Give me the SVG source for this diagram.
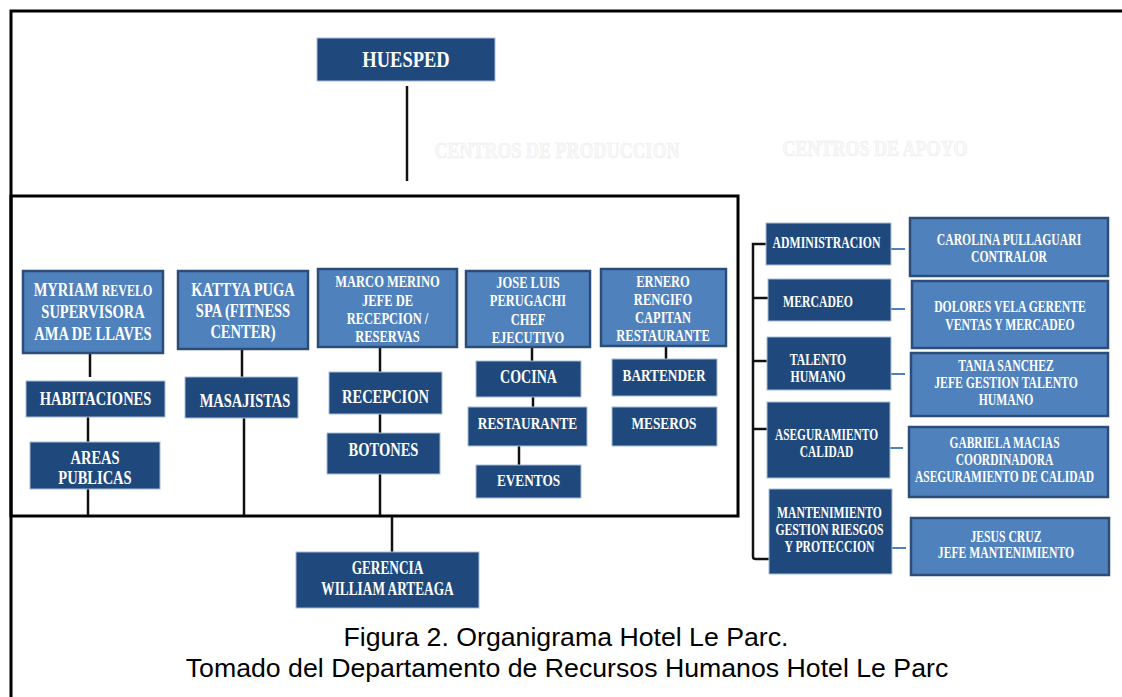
<svg xmlns="http://www.w3.org/2000/svg" width="1122" height="697" viewBox="0 0 1122 697">
<style>
.dk{fill:#1f497d;stroke:#a9bcd6;stroke-width:1}
.lt{fill:#4f81bd;stroke:#2c4d78;stroke-width:2.5}
.t{font-family:"Liberation Serif","Times New Roman",serif;font-weight:bold;fill:#ffffff;text-anchor:middle}
.c{stroke:#111;stroke-width:2.5;fill:none}
.b{stroke:#4f81bd;stroke-width:2;fill:none}
.faint{font-family:"Liberation Serif","Times New Roman",serif;font-weight:bold;font-size:24px;fill:#f8f8f8;stroke:#ededed;stroke-width:0.6;text-anchor:middle}
.cap{font-family:"Liberation Sans",Arial,sans-serif;font-size:26.7px;fill:#000;text-anchor:middle}
</style>
<rect width="1122" height="697" fill="#ffffff"/>
<path d="M11,697 V11 H1122" stroke="#000" stroke-width="3" fill="none"/>
<rect x="11" y="196" width="727" height="320" fill="none" stroke="#000" stroke-width="3"/>
<text class="faint" transform="matrix(0.75 0 0 1 557 0)" x="0" y="158">CENTROS DE PRODUCCION</text>
<text class="faint" transform="matrix(0.75 0 0 1 875 0)" x="0" y="156">CENTROS DE APOYO</text>

<g id="connectors">
<path class="c" d="M407,86 V181"/>
<path class="c" d="M90,353 V377"/>
<path class="c" d="M88,417 V442"/>
<path class="c" d="M88,489 V515"/>
<path class="c" d="M242,349 V381"/>
<path class="c" d="M244,418 V515" stroke="#444"/>
<path class="c" d="M380,347 V372"/>
<path class="c" d="M380,414 V433"/>
<path class="c" d="M380,474 V515"/>
<path class="c" d="M392,516 V552"/>
<path class="c" d="M532,347 V361"/>
<path class="c" d="M533,397 V407"/>
<path class="c" d="M519,446 V465"/>
<path class="c" d="M666,346 V359"/>
<path class="c" stroke-width="3" d="M767,244 H753 V557 Q753,559 756,559 H771"/>
<path class="c" stroke-width="3" d="M753,298 H768"/>
<path class="c" stroke-width="3" d="M753,361 H767"/>
<path class="c" stroke-width="3" d="M753,429 H770"/>
<path class="b" d="M891,249 H905"/>
<path class="b" d="M891,309 H905"/>
<path class="b" d="M891,374 H905"/>
<path class="b" d="M889,448 H903"/>
<path class="b" d="M892,548 H906"/>
</g>

<g id="huesped"><rect class="dk" x="317" y="38" width="178" height="43"/><text class="t" transform="matrix(0.78 0 0 1 406 0)" x="0" y="67.2" font-size="23.7">HUESPED</text></g>

<g id="myriam"><rect class="lt" x="23" y="271" width="140" height="82"/>
<text class="t" transform="matrix(0.75 0 0 1 93 0)" font-size="19.33"><tspan x="0" y="296.4">MYRIAM <tspan font-size="16">REVELO</tspan></tspan><tspan x="0" y="318.1">SUPERVISORA</tspan><tspan x="0" y="339.7">AMA DE LLAVES</tspan></text></g>
<g id="habitaciones"><rect class="dk" x="26" y="381" width="139" height="36"/><text class="t" transform="matrix(0.75 0 0 1 95.5 0)" x="0" y="404.7" font-size="19.33">HABITACIONES</text></g>
<g id="areas"><rect class="dk" x="30" y="442" width="130" height="47"/><text class="t" transform="matrix(0.75 0 0 1 95 0)" font-size="19.33"><tspan x="0" y="464.1">AREAS</tspan><tspan x="0" y="483.7">PUBLICAS</tspan></text></g>

<g id="kattya"><rect class="lt" x="178" y="271" width="130" height="78"/>
<text class="t" transform="matrix(0.75 0 0 1 243 0)" font-size="19.33"><tspan x="0" y="295.7">KATTYA PUGA</tspan><tspan x="0" y="317.1">SPA (FITNESS</tspan><tspan x="0" y="338.1">CENTER)</tspan></text></g>
<g id="masajistas"><rect class="dk" x="185" y="377" width="113" height="41"/><text class="t" transform="matrix(0.75 0 0 1 245 0)" x="0" y="407.1" font-size="19.33">MASAJISTAS</text></g>

<g id="marco"><rect class="lt" x="318" y="269" width="139" height="78"/>
<text class="t" transform="matrix(0.75 0 0 1 387.5 0)" font-size="16.67"><tspan x="0" y="287.2">MARCO MERINO</tspan><tspan x="0" y="306.2">JEFE DE</tspan><tspan x="0" y="323.8">RECEPCION /</tspan><tspan x="0" y="342.2">RESERVAS</tspan></text></g>
<g id="recepcion"><rect class="dk" x="329" y="372" width="113" height="42"/><text class="t" transform="matrix(0.75 0 0 1 385.5 0)" x="0" y="403.1" font-size="19.33">RECEPCION</text></g>
<g id="botones"><rect class="dk" x="327" y="433" width="113" height="41"/><text class="t" transform="matrix(0.75 0 0 1 383.5 0)" x="0" y="455.7" font-size="19.33">BOTONES</text></g>

<g id="jose"><rect class="lt" x="466" y="271" width="124" height="76"/>
<text class="t" transform="matrix(0.75 0 0 1 528 0)" font-size="16.67"><tspan x="0" y="288.2">JOSE LUIS</tspan><tspan x="0" y="306.5">PERUGACHI</tspan><tspan x="0" y="324.8">CHEF</tspan><tspan x="0" y="343.2">EJECUTIVO</tspan></text></g>
<g id="cocina"><rect class="dk" x="476" y="361" width="105" height="36"/><text class="t" transform="matrix(0.75 0 0 1 528.5 0)" x="0" y="383.5" font-size="18.67">COCINA</text></g>
<g id="restaurante"><rect class="dk" x="468" y="407" width="119" height="39"/><text class="t" transform="matrix(0.75 0 0 1 527.5 0)" x="0" y="428.6" font-size="17.73">RESTAURANTE</text></g>
<g id="eventos"><rect class="dk" x="476" y="465" width="105" height="33"/><text class="t" transform="matrix(0.75 0 0 1 528.5 0)" x="0" y="485.9" font-size="17.73">EVENTOS</text></g>

<g id="ernero"><rect class="lt" x="601" y="269" width="125" height="77"/>
<text class="t" transform="matrix(0.75 0 0 1 663 0)" font-size="16.67"><tspan x="0" y="287.2">ERNERO</tspan><tspan x="0" y="304.8">RENGIFO</tspan><tspan x="0" y="323.2">CAPITAN</tspan><tspan x="0" y="341.5">RESTAURANTE</tspan></text></g>
<g id="bartender"><rect class="dk" x="612" y="359" width="105" height="37"/><text class="t" transform="matrix(0.75 0 0 1 664 0)" x="0" y="380.9" font-size="17.73">BARTENDER</text></g>
<g id="meseros"><rect class="dk" x="612" y="407" width="105" height="39"/><text class="t" transform="matrix(0.75 0 0 1 664 0)" x="0" y="428.6" font-size="17.73">MESEROS</text></g>

<g id="gerencia"><rect class="dk" x="296" y="552" width="183" height="56"/>
<text class="t" transform="matrix(0.72 0 0 1 387.5 0)" font-size="18.5"><tspan x="0" y="574.4">GERENCIA</tspan><tspan x="0" y="595.4">WILLIAM ARTEAGA</tspan></text></g>

<g id="administracion"><rect class="dk" x="766" y="223" width="125" height="42"/><text class="t" transform="matrix(0.68 0 0 1 826.5 0)" x="0" y="248.4" font-size="17.3">ADMINISTRACION</text></g>
<g id="mercadeo"><rect class="dk" x="768" y="279" width="123" height="42"/><text class="t" transform="matrix(0.68 0 0 1 818 0)" x="0" y="307.4" font-size="17.3">MERCADEO</text></g>
<g id="talento"><rect class="dk" x="767" y="337" width="124" height="53"/><text class="t" transform="matrix(0.68 0 0 1 818 0)" font-size="17.3"><tspan x="0" y="365">TALENTO</tspan><tspan x="0" y="382">HUMANO</tspan></text></g>
<g id="aseguramiento"><rect class="dk" x="767" y="402" width="123" height="76"/><text class="t" transform="matrix(0.68 0 0 1 826.5 0)" font-size="16.8"><tspan x="0" y="440.3">ASEGURAMIENTO</tspan><tspan x="0" y="457.3">CALIDAD</tspan></text></g>
<g id="mantenimiento"><rect class="dk" x="769" y="489" width="123" height="85"/><text class="t" transform="matrix(0.68 0 0 1 829.5 0)" font-size="17.2"><tspan x="0" y="518">MANTENIMIENTO</tspan><tspan x="0" y="535">GESTION RIESGOS</tspan><tspan x="0" y="552">Y PROTECCION</tspan></text></g>

<g id="carolina"><rect class="lt" x="910" y="218" width="198" height="58" stroke-width="3"/><text class="t" transform="matrix(0.68 0 0 1 1009 0)" font-size="17.2"><tspan x="0" y="245">CAROLINA PULLAGUARI</tspan><tspan x="0" y="261.7">CONTRALOR</tspan></text></g>
<g id="dolores"><rect class="lt" x="912" y="281" width="196" height="67"/><text class="t" transform="matrix(0.68 0 0 1 1010 0)" font-size="17.2"><tspan x="0" y="312.4">DOLORES VELA GERENTE</tspan><tspan x="0" y="329.7">VENTAS Y MERCADEO</tspan></text></g>
<g id="tania"><rect class="lt" x="911" y="353" width="197" height="63"/><text class="t" transform="matrix(0.68 0 0 1 1006 0)" font-size="17.2"><tspan x="0" y="370.7">TANIA SANCHEZ</tspan><tspan x="0" y="388">JEFE GESTION TALENTO</tspan><tspan x="0" y="405">HUMANO</tspan></text></g>
<g id="gabriela"><rect class="lt" x="909" y="427" width="199" height="70"/><text class="t" transform="matrix(0.68 0 0 1 1004.5 0)" font-size="16.9"><tspan x="0" y="448.3">GABRIELA MACIAS</tspan><tspan x="0" y="464.9">COORDINADORA</tspan><tspan x="0" y="482.3">ASEGURAMIENTO DE CALIDAD</tspan></text></g>
<g id="jesus"><rect class="lt" x="911" y="518" width="198" height="57"/><text class="t" transform="matrix(0.68 0 0 1 1006 0)" font-size="17.2"><tspan x="0" y="541.7">JESUS CRUZ</tspan><tspan x="0" y="558.4">JEFE MANTENIMIENTO</tspan></text></g>

<text class="cap" x="566" y="646">Figura 2. Organigrama Hotel Le Parc.</text>
<text class="cap" x="567" y="677">Tomado del Departamento de Recursos Humanos Hotel Le Parc</text>
</svg>
